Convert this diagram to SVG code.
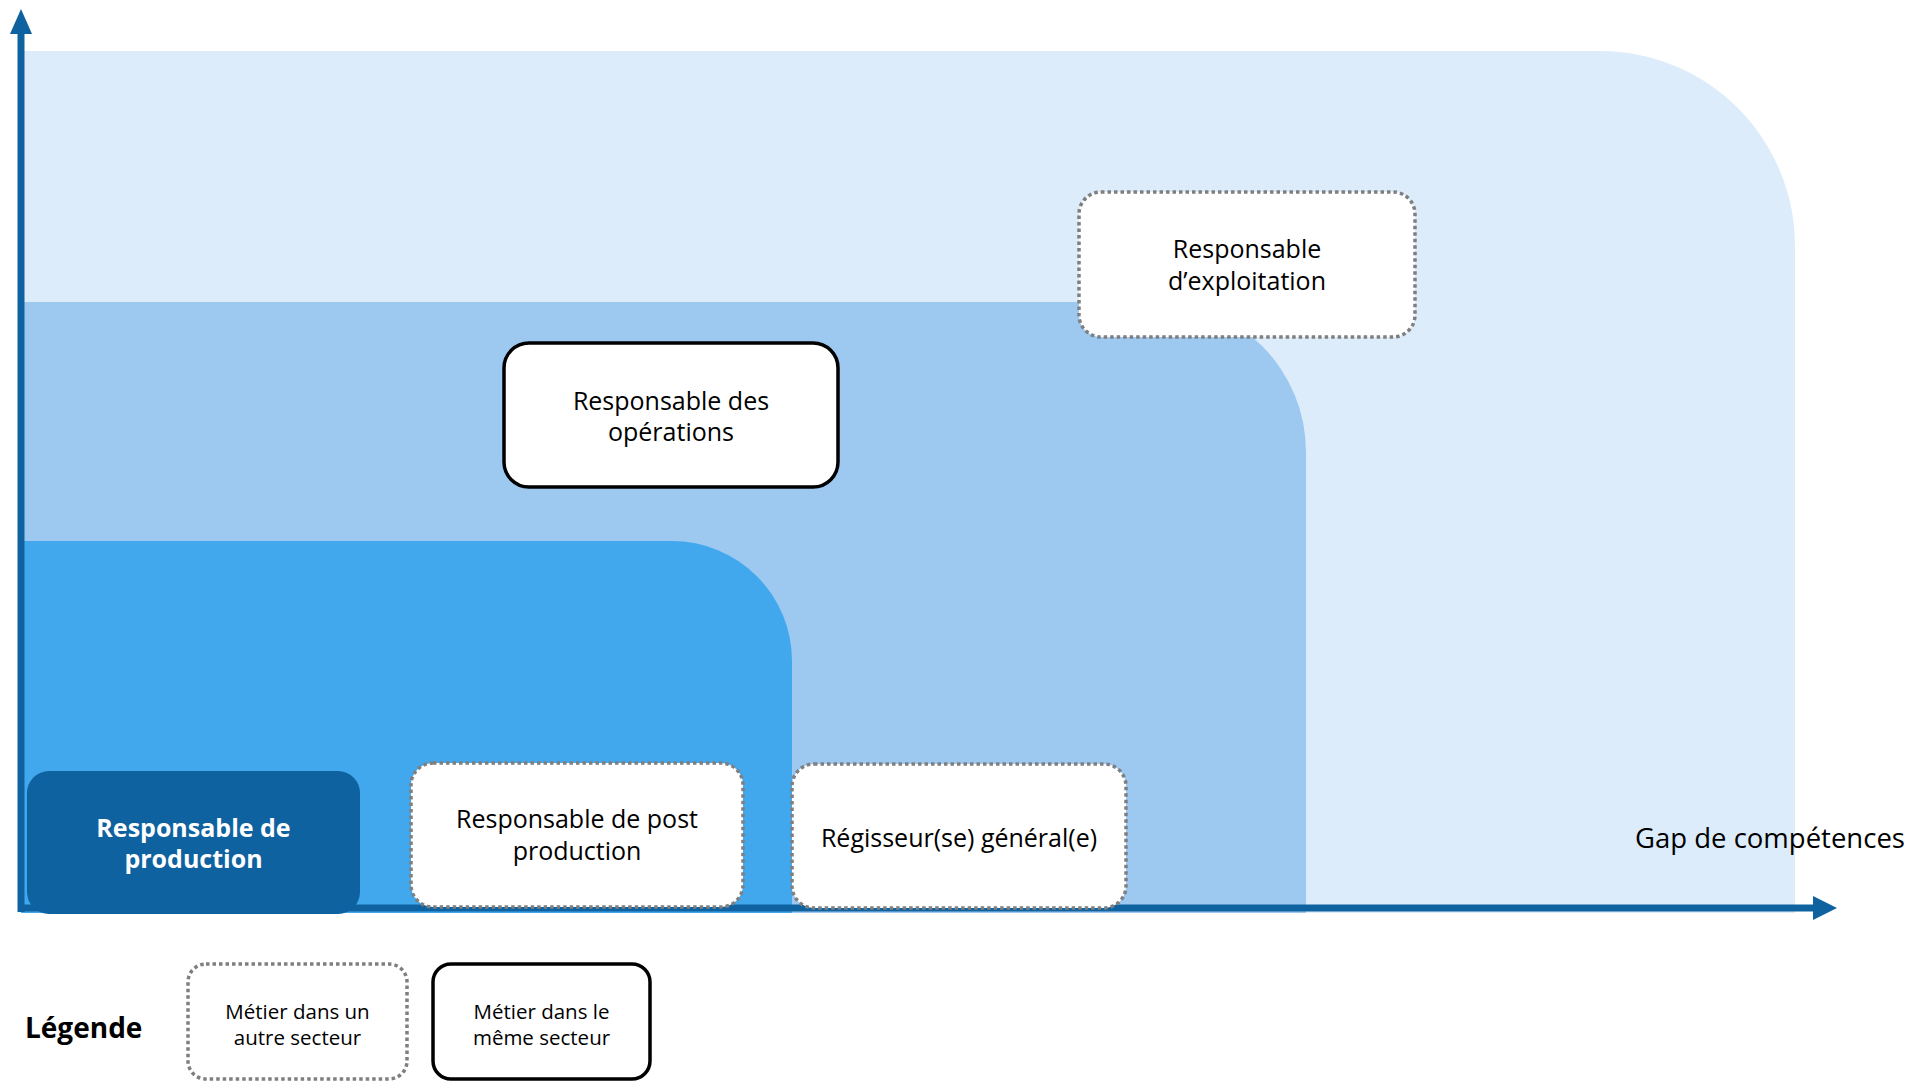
<svg xmlns="http://www.w3.org/2000/svg" width="1914" height="1081" viewBox="0 0 1914 1081">
  <style>
    text { font-family: "Open Sans", "Noto Sans", "DejaVu Sans", sans-serif; fill: #000000; text-anchor: middle; }
    .t24 { font-size: 25px; }
    .t20 { font-size: 20.5px; }
    .bold { font-weight: 700; }
    .white { fill: #FFFFFF; }
    .dotted { fill: #FFFFFF; stroke: #7F7F7F; stroke-width: 3.5; stroke-dasharray: 3.5 3; }
    .solid { fill: #FFFFFF; stroke: #000000; stroke-width: 3.5; }
    .axis { stroke: #0E62A0; stroke-width: 7; fill: none; }
  </style>
  <rect width="1914" height="1081" fill="#FFFFFF"/>

  <g id="zones">
    <path id="zone-light" d="M21,51 H1600 A195,195 0 0 1 1795,246 V913 H21 Z" fill="#DDECFA"/>
    <path id="zone-medium" d="M21,302 H1156 A150,150 0 0 1 1306,452 V913 H21 Z" fill="#9DC9F1"/>
    <path id="zone-dark" d="M21,541 H672 A120,120 0 0 1 792,661 V913 H21 Z" fill="#42A8EE"/>
  </g>

  <g id="connectors">
    <line class="axis" x1="21" y1="912" x2="21" y2="32"/>
    <polygon points="21,9 10,34 32,34" fill="#0E62A0"/>
    <line class="axis" x1="18" y1="908" x2="1815" y2="908"/>
    <polygon points="1837,908 1813,896 1813,920" fill="#0E62A0"/>
  </g>

  <g id="node-production">
    <rect x="27" y="771" width="333" height="143" rx="22" fill="#0F62A0"/>
    <text class="t24 bold white" x="193.5" y="837">Responsable de</text>
    <text class="t24 bold white" x="193.5" y="868">production</text>
  </g>

  <g id="node-post-production">
    <rect class="dotted" x="411" y="763" width="332" height="144" rx="22"/>
    <text class="t24" x="577" y="828">Responsable de post</text>
    <text class="t24" x="577" y="860">production</text>
  </g>

  <g id="node-regisseur">
    <rect class="dotted" x="792" y="764" width="334" height="144" rx="22"/>
    <text class="t24" x="959" y="847">Régisseur(se) général(e)</text>
  </g>

  <g id="node-operations">
    <rect class="solid" x="504" y="343" width="334" height="144" rx="25"/>
    <text class="t24" x="671" y="410">Responsable des</text>
    <text class="t24" x="671" y="441">opérations</text>
  </g>

  <g id="node-exploitation">
    <rect class="dotted" x="1079" y="192" width="336" height="145" rx="22"/>
    <text class="t24" x="1247" y="258">Responsable</text>
    <text class="t24" x="1247" y="290">d’exploitation</text>
  </g>

  <g id="axis-label">
    <text x="1635" y="848" style="font-size:27.5px; text-anchor:start">Gap de compétences</text>
  </g>

  <g id="legend">
    <text class="bold" x="25" y="1038" style="font-size:28px; text-anchor:start">Légende</text>
    <g id="legend-other">
      <rect class="dotted" x="188" y="964" width="219" height="115" rx="18"/>
      <text class="t20" x="297.5" y="1019">Métier dans un</text>
      <text class="t20" x="297.5" y="1045">autre secteur</text>
    </g>
    <g id="legend-same">
      <rect class="solid" x="433" y="964" width="217" height="115" rx="18"/>
      <text class="t20" x="541.5" y="1019">Métier dans le</text>
      <text class="t20" x="541.5" y="1045">même secteur</text>
    </g>
  </g>
</svg>
